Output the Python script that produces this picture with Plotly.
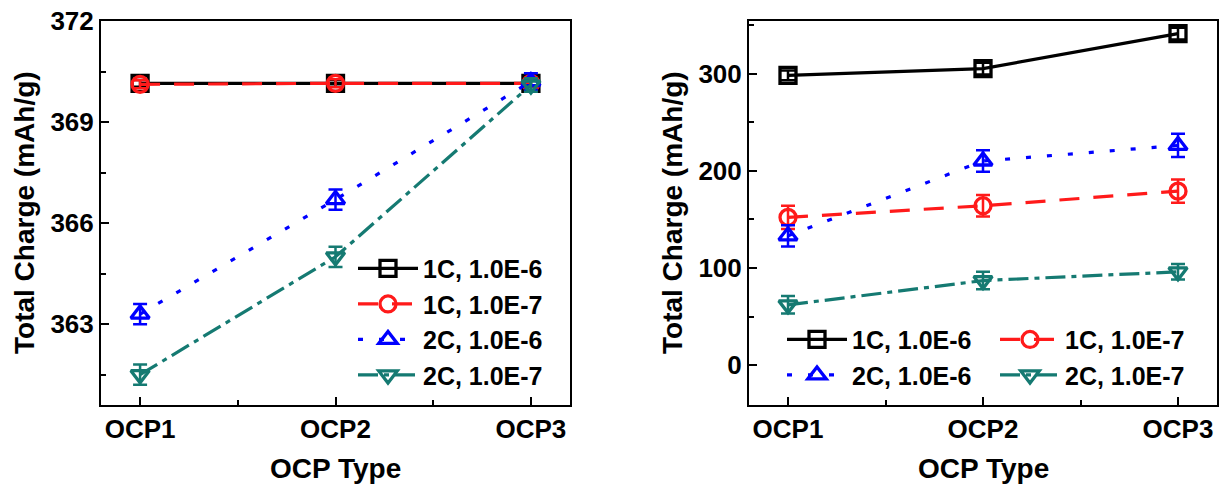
import plotly.graph_objects as go

# OCP types on the x axis
categories = ["OCP1", "OCP2", "OCP3"]
series_names = ["1C, 1.0E-6", "1C, 1.0E-7", "2C, 1.0E-6", "2C, 1.0E-7"]

# Left panel: total charge (mAh/g)
left_1c_e6 = [370.15, 370.15, 370.15]
left_1c_e7 = [370.12, 370.15, 370.15]
left_2c_e6 = [363.3, 366.7, 370.2]
left_2c_e7 = [361.5, 365.0, 370.1]
left_err_1c_e6 = [0.1, 0.1, 0.1]
left_err_1c_e7 = [0.12, 0.12, 0.1]
left_err_2c_e6 = [0.3, 0.3, 0.25]
left_err_2c_e7 = [0.3, 0.3, 0.2]

# Right panel: total charge (mAh/g)
right_1c_e6 = [298, 305, 341]
right_1c_e7 = [152, 164, 179]
right_2c_e6 = [133, 210, 226]
right_2c_e7 = [62, 87, 96]
right_err_1c_e6 = [5, 6, 6]
right_err_1c_e7 = [12, 11, 12]
right_err_2c_e6 = [11, 11, 12]
right_err_2c_e7 = [9, 9, 8]

left_ticks = [363, 366, 369, 372]
right_ticks = [0, 100, 200, 300]

colors = ["#000000", "#FF1A1A", "#0000FF", "#157A72"]
symbols = ["square-open", "circle-open", "triangle-up-open", "triangle-down-open"]
dashes = ["solid", "20px,14px", "5px,16px", "20px,6px,5px,6px"]

x = list(range(1, len(categories) + 1))

left_vals = [left_1c_e6, left_1c_e7, left_2c_e6, left_2c_e7]
left_errs = [left_err_1c_e6, left_err_1c_e7, left_err_2c_e6, left_err_2c_e7]
right_vals = [right_1c_e6, right_1c_e7, right_2c_e6, right_2c_e7]
right_errs = [right_err_1c_e6, right_err_1c_e7, right_err_2c_e6, right_err_2c_e7]

FONT = "Liberation Sans, Arial, sans-serif"
W, H = 1225, 488

fig = go.Figure()


def add_series(vals, err, i, xa, ya, legend, group=None):
    fig.add_trace(go.Scatter(
        x=x, y=vals, name=series_names[i], mode="lines+markers",
        xaxis=xa, yaxis=ya, legend=legend,
        legendgroup=group,
        line=dict(color=colors[i], width=3.2, dash=dashes[i]),
        marker=dict(symbol=symbols[i], size=16, color=colors[i],
                    line=dict(color=colors[i], width=3.3)),
        error_y=dict(type="data", array=err, visible=True,
                     color=colors[i], thickness=2.5, width=7),
    ))


for i in range(4):
    add_series(left_vals[i], left_errs[i], i, "x", "y", "legend")

# right panel: legend laid out as two columns via groups
groups = ["g1", "g2", "g1", "g2"]
for i in range(4):
    add_series(right_vals[i], right_errs[i], i, "x2", "y2", "legend2", groups[i])

axis_common = dict(
    showline=True, linecolor="black", linewidth=2, mirror=True,
    ticks="inside", ticklen=8, tickwidth=2, tickcolor="black",
    showgrid=False, zeroline=False, automargin=False,
    tickfont=dict(family=FONT, size=26, color="black", weight="bold"),
)
minor = dict(ticks="inside", ticklen=5, tickwidth=2, tickcolor="black", showgrid=False)

# plot-area edges in pixels
left_x = (101, 570)
right_x = (749, 1217)
top_y, bot_y = 21, 405
ydom = [1 - bot_y / H, 1 - top_y / H]

legend_font = dict(family=FONT, size=25, color="black", weight="bold")

fig.update_layout(
    width=W, height=H,
    margin=dict(l=0, r=0, t=0, b=0, autoexpand=False),
    paper_bgcolor="white", plot_bgcolor="white",
    font=dict(family=FONT, size=26, color="black", weight="bold"),
    xaxis=dict(domain=[left_x[0] / W, left_x[1] / W], range=[0.8, 3.2],
               tickvals=x, ticktext=categories,
               minor=dict(dtick=0.5, tick0=0.5, **minor), anchor="y", **axis_common),
    yaxis=dict(domain=ydom, range=[360.6, 372], tickvals=left_ticks,
               minor=dict(dtick=1.5, tick0=0, **minor), anchor="x", **axis_common),
    xaxis2=dict(domain=[right_x[0] / W, right_x[1] / W], range=[0.8, 3.2],
                tickvals=x, ticktext=categories,
                minor=dict(dtick=0.5, tick0=0.5, **minor), anchor="y2", **axis_common),
    yaxis2=dict(domain=ydom, range=[-41, 354], tickvals=right_ticks,
                minor=dict(dtick=50, tick0=0, **minor), anchor="x2", **axis_common),
    legend=dict(x=353 / W, xanchor="left", y=0.185, yanchor="bottom",
                bgcolor="rgba(0,0,0,0)", borderwidth=0, font=legend_font,
                tracegroupgap=0, itemwidth=60),
    legend2=dict(orientation="h", traceorder="grouped", x=782 / W, xanchor="left",
                 y=0.185, yanchor="bottom", bgcolor="rgba(0,0,0,0)", borderwidth=0,
                 font=legend_font, tracegroupgap=0, itemwidth=60,
                 entrywidth=138, entrywidthmode="pixels"),
    showlegend=True,
)

# axis titles
title_font = dict(family=FONT, size=28, color="black", weight="bold")
for (x0, x1), ytx in ((left_x, 24), (right_x, 672)):
    fig.add_annotation(text="OCP Type", xref="paper", yref="paper",
                       x=(x0 + x1) / 2 / W, y=1 - 468 / H, showarrow=False,
                       xanchor="center", yanchor="middle", font=title_font)
    fig.add_annotation(text="Total Charge (mAh/g)", xref="paper", yref="paper",
                       x=ytx / W, y=1 - (top_y + bot_y) / 2 / H, showarrow=False,
                       textangle=-90, xanchor="center", yanchor="middle", font=title_font)

fig.write_html("out.html")
